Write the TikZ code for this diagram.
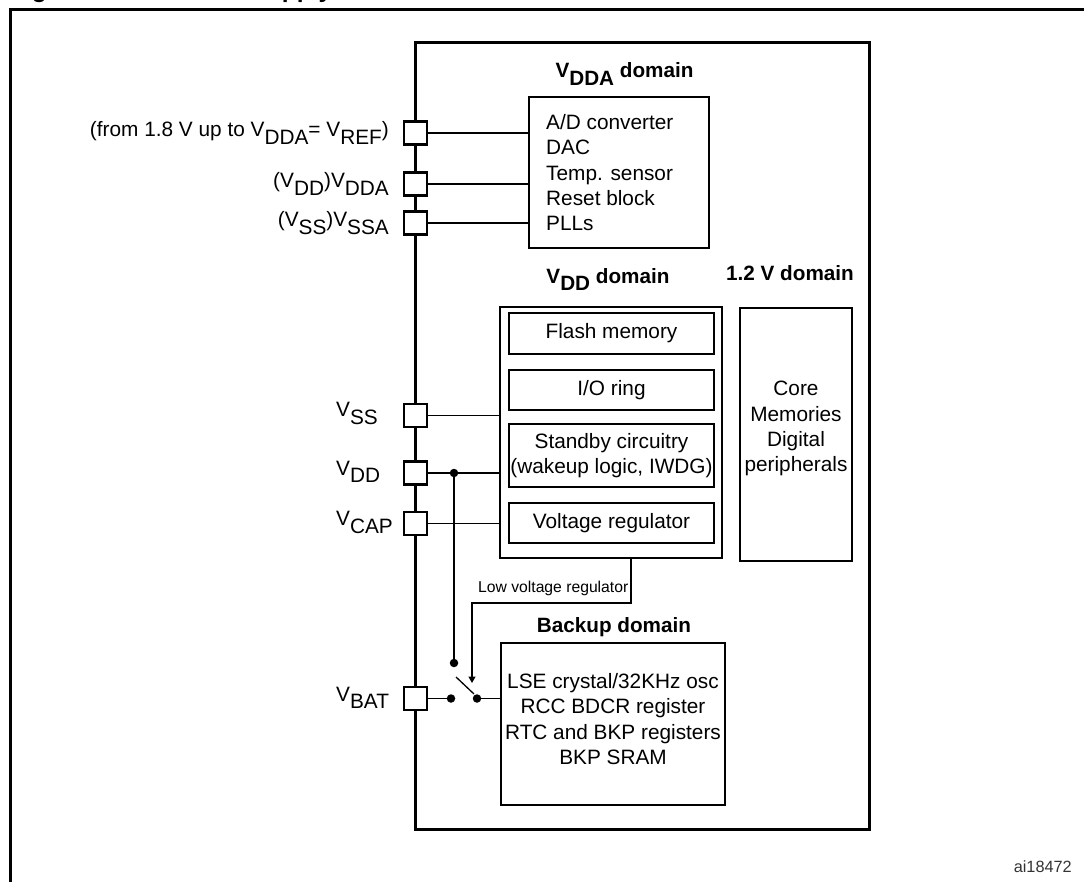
\documentclass[tikz,border=0pt]{standalone}
\usepackage{fontspec}
\setmainfont{Liberation Sans}
\usetikzlibrary{arrows.meta}
\newcommand\lowr[1]{\raisebox{-7.5bp}{#1}}
\begin{document}
\begin{tikzpicture}[x=1bp,y=-1bp,
  txt/.style={inner sep=0pt, font=\fontsize{20.8bp}{25.4bp}\selectfont},
  btxt/.style={inner sep=0pt, font=\fontsize{20.7bp}{25.4bp}\selectfont\bfseries},
  pin/.style={draw, fill=white, line width=2.7bp, minimum size=23bp, inner sep=0pt},
  box/.style={draw, line width=2.5bp, inner sep=0pt},
  ibox/.style={draw, line width=2.7bp, inner sep=0pt, minimum width=205bp, font=\fontsize{20.8bp}{25.4bp}\selectfont, align=center},
  wire/.style={line width=1.3bp},
  dot/.style={circle, fill, inner sep=0pt, minimum size=8.5bp},
]
\useasboundingbox (0,0) rectangle (1084,882);

% outer frame (cut by the page edges)
\coordinate (fTR) at (1095,9.5);
\coordinate (fTL) at (10.5,9.5);
\coordinate (fBL) at (10.5,895);
\draw[line width=2.6bp] (fTR) -- (fTL) -- (fBL);

% title, almost entirely cut off at the top edge
\node[anchor=base west, inner sep=0pt, font=\fontsize{24.5bp}{28bp}\selectfont\bfseries] (title) at (10,-2.5) {Figure 10.\hspace{47bp}Power supply overview};

% chip outline
\node[draw, line width=3bp, minimum width=453.5bp, minimum height=786bp, inner sep=0pt] (chip) at (642.25,436) {};

% pins
\foreach \n/\y in {pA/133, pB/184, pC/223, pSS/415.5, pDD/473, pCAP/523.5, pBAT/698.5}
  \node[pin] (\n) at (415.5,\y) {};

% pin labels
\node[txt, anchor=base east] (lA) at (389,136.5) {(from 1.8 V up to V\lowr{DDA}= V\lowr{REF})};
\node[txt, anchor=base east] (lB) at (389,187.5) {(V\lowr{DD})V\lowr{DDA}};
\node[txt, anchor=base east] (lC) at (389,226.5) {(V\lowr{SS})V\lowr{SSA}};
\node[txt, anchor=base west] (lSS) at (336,416.5) {V\lowr{SS}};
\node[txt, anchor=base west] (lDD) at (336,475) {V\lowr{DD}};
\node[txt, anchor=base west] (lCAP) at (336,525.5) {V\lowr{CAP}};
\node[txt, anchor=base west] (lBAT) at (336,701) {V\lowr{BAT}};

% VDDA domain
\node[btxt, anchor=base] (vddaL) at (624.5,77.7) {V\lowr{DDA} domain};
\node[box, minimum width=180bp, minimum height=151bp] (vdda) at (619,172.5) {};
\node[txt, anchor=north west, align=left] (vddaT) at (546,114) {A/D converter\\DAC\\Temp. sensor\\Reset block\\PLLs};
\draw[wire] (pA.east) -- (pA.east -| vdda.west);
\draw[wire] (pB.east) -- (pB.east -| vdda.west);
\draw[wire] (pC.east) -- (pC.east -| vdda.west);

% VDD domain
\node[btxt, anchor=base] (vddL) at (608,283) {V\lowr{DD} domain};
\node[box, line width=2.3bp, minimum width=222bp, minimum height=251bp] (vdd) at (611,432.5) {};
\node[ibox, minimum height=41bp] (flash) at (611.5,333.5) {Flash memory};
\node[ibox, minimum height=40bp] (io) at (611.5,390) {I/O ring};
\node[ibox, minimum height=63bp] (stby) at (611.5,455.5) {Standby circuitry\\(wakeup logic, IWDG)};
\node[ibox, minimum height=40bp] (vreg) at (611.5,523) {Voltage regulator};
\draw[wire] (pSS.east) -- (pSS.east -| vdd.west);
\draw[wire] (pDD.east) -- (pDD.east -| vdd.west);
\draw[wire] (pCAP.east) -- (pCAP.east -| vdd.west);
\node[dot] (jDD) at (454,473) {};

% 1.2 V domain
\node[btxt, anchor=base] (v12L) at (790,280) {1.2 V domain};
\node[box, minimum width=112bp, minimum height=253bp] (v12) at (796,434.5) {};
\node[txt, anchor=north, align=center] (v12T) at (796,381) {Core\\Memories\\Digital\\peripherals};

% Backup domain
\node[btxt, anchor=base] (bkpL) at (614,632) {Backup domain};
\node[box, minimum width=224bp, minimum height=162bp] (bkp) at (613,724) {};
\node[txt, anchor=north, align=center] (bkpT) at (613,673) {LSE crystal/32KHz osc\\RCC BDCR register\\RTC and BKP registers\\BKP SRAM};

% switch
\node[dot] (sw1) at (451,698.5) {};
\node[dot] (sw2) at (477,698.5) {};
\node[dot] (swT) at (454,663) {};
\coordinate (levA) at (456,677);
\coordinate (levB) at (474,694);
\draw[wire] (levA) -- (levB);
\draw[wire] (pBAT.east) -- (sw1);
\draw[wire] (sw2) -- (sw2 -| bkp.west);
\draw[wire] (jDD) -- (swT);

% low voltage regulator path
\coordinate (lv1) at (631,603);
\coordinate (lv2) at (472,603);
\coordinate (lvTip) at (472,683);
\draw[wire, -{Triangle[length=6.5bp,width=7bp]}] (vdd.south -| lv1) -- (lv1) -- (lv2) -- (lvTip);
\node[inner sep=0pt, anchor=base east, font=\fontsize{15.7bp}{18bp}\selectfont] (lvL) at (628.5,592) {Low voltage regulator};

% figure id
\node[anchor=base east, inner sep=0pt, font=\fontsize{16.3bp}{19bp}\selectfont, text=black!80] (ai) at (1072,872) {ai18472};
\end{tikzpicture}
\end{document}
